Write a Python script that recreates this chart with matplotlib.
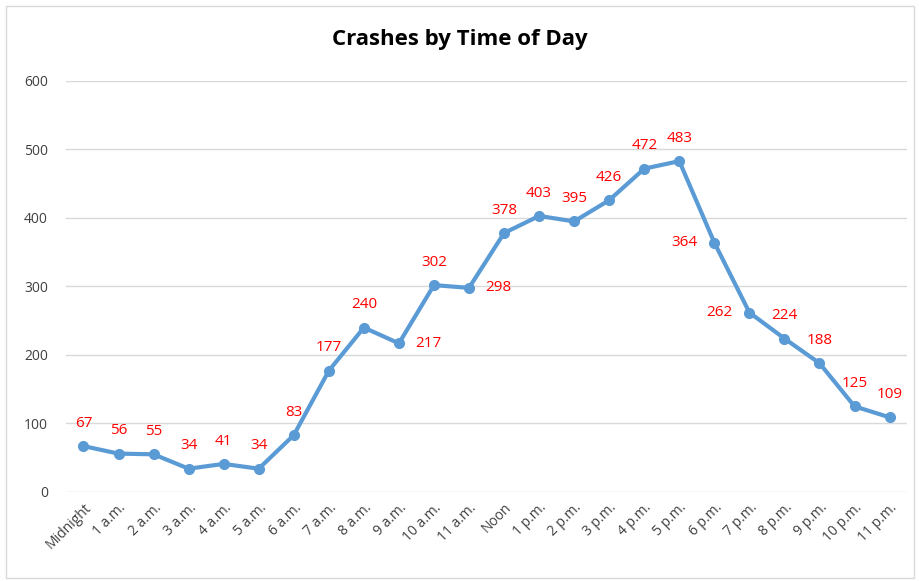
import matplotlib.pyplot as plt
from matplotlib.patches import Rectangle

# Crashes per hour of the day
hours = ["Midnight", "1 a.m.", "2 a.m.", "3 a.m.", "4 a.m.", "5 a.m.", "6 a.m.",
         "7 a.m.", "8 a.m.", "9 a.m.", "10 a.m.", "11 a.m.", "Noon", "1 p.m.",
         "2 p.m.", "3 p.m.", "4 p.m.", "5 p.m.", "6 p.m.", "7 p.m.", "8 p.m.",
         "9 p.m.", "10 p.m.", "11 p.m."]
crashes = [67, 56, 55, 34, 41, 34, 83, 177, 240, 217, 302, 298, 378, 403,
           395, 426, 472, 483, 364, 262, 224, 188, 125, 109]
# where each data label sits relative to its point
label_side = ["above"] * 24
label_side[9] = "right"
label_side[11] = "right"
label_side[18] = "left"
label_side[19] = "left"

plt.rcParams['font.family'] = ['Open Sans', 'DejaVu Sans']

fig = plt.figure(figsize=(9.2, 5.81), dpi=100)
fig.patches.append(Rectangle((0.006, 0.005), 0.988, 0.985, transform=fig.transFigure,
                             fill=False, edgecolor="#D9D9D9", lw=1))
ax = fig.add_axes([0.0717, 0.1532, 0.9143, 0.7074])

x = range(len(hours))
ax.plot(x, crashes, color="#5B9BD5", lw=3, marker="o", markersize=7, zorder=3)

for i, v in enumerate(crashes):
    if label_side[i] == "above":
        off, ha, va = (0, 11), "center", "bottom"
    elif label_side[i] == "right":
        off, ha, va = (12, 0), "left", "center"
    else:
        off, ha, va = (-12, 0), "right", "center"
    ax.annotate(str(v), (i, v), xytext=off, textcoords="offset points",
                ha=ha, va=va, color="#FF0000", fontsize=11)

ax.set_xlim(-0.5, len(hours) - 0.5)
ax.set_ylim(0, 600)
ax.set_yticks(range(0, 601, 100))
ax.set_xticks(list(x))
ax.set_xticklabels(hours, rotation=45, ha="right", va="top",
                   rotation_mode="anchor", fontsize=10, color="#404040")
ax.tick_params(axis="y", labelsize=10, labelcolor="#404040", length=0, pad=13)
ax.tick_params(axis="x", length=0, pad=6)
ax.grid(axis="y", color="#D9D9D9", lw=1)
ax.set_axisbelow(True)
for s in ax.spines.values():
    s.set_visible(False)

fig.text(0.5, 0.932, "Crashes by Time of Day", ha="center", va="center",
         fontsize=16, fontweight="bold", color="#000000")

fig.savefig("out.png", dpi=100)
